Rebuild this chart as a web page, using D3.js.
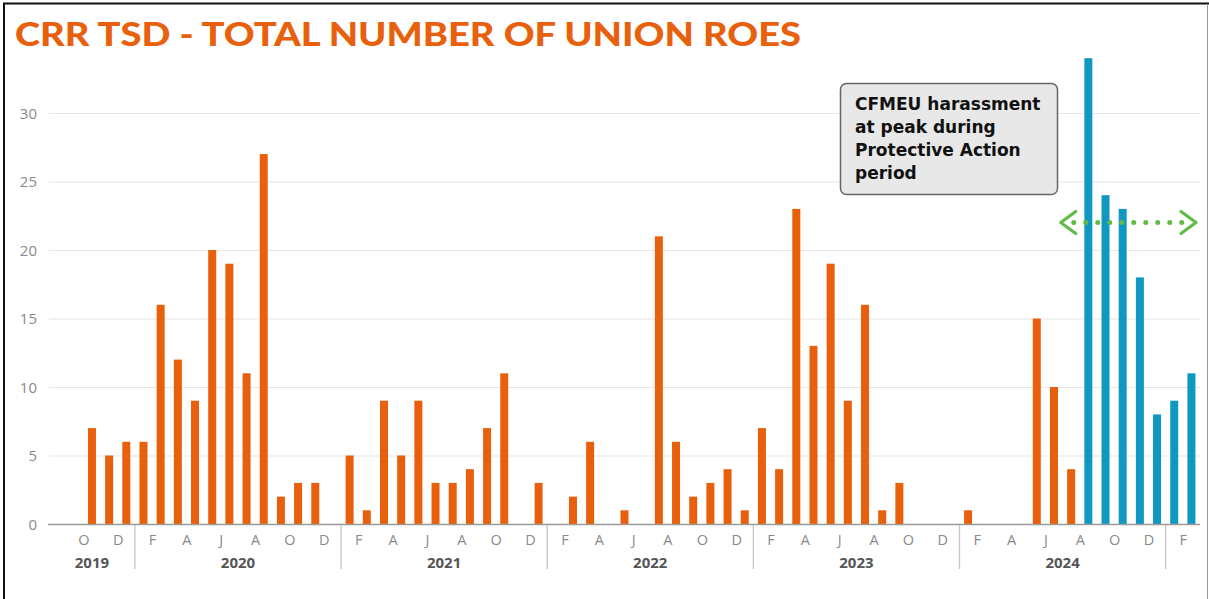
<!DOCTYPE html>
<html>
<head>
<meta charset="utf-8">
<script src="https://cdn.jsdelivr.net/npm/d3@7/dist/d3.min.js"></script>
<style>
  html, body { margin: 0; padding: 0; background: #fff; }
  svg { display: block; }
</style>
</head>
<body>
<svg id="chart" width="1209" height="599"></svg>
<script>
// ---- DATA ----
const title = "CRR TSD - TOTAL NUMBER OF UNION ROES";
// months from Oct 2019 to Feb 2025
const months = [
  "2019-10","2019-11","2019-12",
  "2020-01","2020-02","2020-03","2020-04","2020-05","2020-06","2020-07","2020-08","2020-09","2020-10","2020-11","2020-12",
  "2021-01","2021-02","2021-03","2021-04","2021-05","2021-06","2021-07","2021-08","2021-09","2021-10","2021-11","2021-12",
  "2022-01","2022-02","2022-03","2022-04","2022-05","2022-06","2022-07","2022-08","2022-09","2022-10","2022-11","2022-12",
  "2023-01","2023-02","2023-03","2023-04","2023-05","2023-06","2023-07","2023-08","2023-09","2023-10","2023-11","2023-12",
  "2024-01","2024-02","2024-03","2024-04","2024-05","2024-06","2024-07","2024-08","2024-09","2024-10","2024-11","2024-12",
  "2025-01","2025-02"
];
const values = [
  7,5,6,
  6,16,12,9,20,19,11,27,2,3,3,0,
  5,1,9,5,9,3,3,4,7,11,0,3,
  0,2,6,0,1,0,21,6,2,3,4,1,
  7,4,23,13,19,9,16,1,3,0,0,0,
  1,0,0,0,15,10,4,34,24,23,18,8,
  9,11
];
const protectiveActionStart = "2024-08";
const yTicks = [0,5,10,15,20,25,30];
const monthLetters = ["J","F","M","A","M","J","J","A","S","O","N","D"];
const years = [2019,2020,2021,2022,2023,2024];
const annotationLines = ["CFMEU harassment","at peak during","Protective Action","period"];

// ---- SETUP ----
const svg = d3.select("#chart");
const W = 1209, H = 599;
const ORANGE = "#E8600B", BLUE = "#0F98C2", GREEN = "#62BB46";

// axis domain: Aug 2019 .. Mar 2025 as month offsets
const startYear = 2019, startMonth = 7; // Aug (0-based)
const monthIndex = s => { const [y,m] = s.split("-").map(Number); return (y - startYear)*12 + (m-1) - startMonth; };
const domainEnd = monthIndex("2025-03");
const x = d3.scaleLinear().domain([0, domainEnd]).range([49, 1200]);
const y = d3.scaleLinear().domain([0, 30]).range([524, 113]);

// frame
svg.append("line").attr("x1",4).attr("x2",4).attr("y1",3).attr("y2",H).attr("stroke","#111").attr("stroke-width",2);
svg.append("line").attr("x1",3).attr("x2",W).attr("y1",3.5).attr("y2",3.5).attr("stroke","#111").attr("stroke-width",2);
svg.append("line").attr("x1",1207.5).attr("x2",1207.5).attr("y1",4).attr("y2",H).attr("stroke","#999").attr("stroke-width",1);

// title
svg.append("text").attr("x",15).attr("y",46).text(title)
  .attr("font-family","Lato, 'Open Sans', sans-serif").attr("font-weight",900)
  .attr("font-size",33).attr("fill",ORANGE)
  .attr("textLength",786).attr("lengthAdjust","spacingAndGlyphs");

// gridlines
svg.append("g").selectAll("line").data(yTicks.filter(d=>d>0)).join("line")
  .attr("x1",49).attr("x2",1200).attr("y1",d=>y(d)+0.5).attr("y2",d=>y(d)+0.5)
  .attr("stroke","#e6e6e6").attr("stroke-width",1.2);

// y axis labels
const yAxis = d3.axisLeft(y).tickValues(yTicks).tickSize(0).tickPadding(0);
const yg = svg.append("g").attr("transform","translate(37,0)").call(yAxis);
yg.select(".domain").remove();
yg.selectAll("text").attr("font-family","'Open Sans', sans-serif").attr("font-size",15)
  .attr("fill","#8a8a8a").attr("dy","0.35em");

// bars
const barW = 8;
const hlStart = monthIndex(protectiveActionStart);
svg.append("g").selectAll("rect").data(months.map((m,i)=>({m, v: values[i], k: monthIndex(m)}))).join("rect")
  .attr("x", d => x(d.k + 0.5) - barW/2)
  .attr("width", barW)
  .attr("y", d => y(d.v))
  .attr("height", d => y(0) - y(d.v))
  .attr("fill", d => d.k >= hlStart ? BLUE : ORANGE);

// baseline
svg.append("line").attr("x1",48).attr("x2",1200).attr("y1",524.5).attr("y2",524.5)
  .attr("stroke","#9a9a9a").attr("stroke-width",1.3);

// month labels (every other month, Oct 2019 .. Feb 2025)
const monthTicks = d3.range(2, domainEnd, 2);
const xAxis = d3.axisBottom(x).tickValues(monthTicks).tickSize(0).tickPadding(0)
  .tickFormat(k => monthLetters[(k + startMonth) % 12]);
const xg = svg.append("g").attr("transform","translate(0,540)").call(xAxis);
xg.select(".domain").remove();
xg.selectAll("text").attr("font-family","'Open Sans', sans-serif").attr("font-size",14.5)
  .attr("fill","#8a8a8a").attr("dy","0.35em");

// year separators
const janIdx = d3.range(startYear+1, 2026).map(yr => (yr - startYear)*12 - startMonth);
svg.append("g").selectAll("line").data(janIdx).join("line")
  .attr("x1",d=>x(d)).attr("x2",d=>x(d)).attr("y1",525).attr("y2",569)
  .attr("stroke","#c4c4c4").attr("stroke-width",1.3);

// year labels
svg.append("g").selectAll("text").data(years).join("text")
  .attr("x", yr => {
    const a = Math.max(0, (yr - startYear)*12 - startMonth);
    const b = Math.min(domainEnd, (yr + 1 - startYear)*12 - startMonth);
    return (x(a) + x(b))/2;
  })
  .attr("y",568).attr("text-anchor","middle")
  .attr("font-family","'Open Sans', sans-serif").attr("font-weight",700).attr("font-size",15)
  .attr("fill","#555").text(d=>d);

// annotation box
svg.append("rect").attr("x",840.5).attr("y",83.5).attr("width",217).attr("height",111).attr("rx",6)
  .attr("fill","#e8e8e8").attr("stroke","#666").attr("stroke-width",1.5);
svg.append("g").selectAll("text").data(annotationLines).join("text")
  .attr("x",855).attr("y",(d,i)=>109.5 + i*23.3)
  .attr("font-family","'DejaVu Sans', sans-serif").attr("font-weight",700).attr("font-size",17)
  .attr("fill","#111").text(d=>d);

// green dotted arrow across protective action period
const arrowY = 222.5;
const ax1 = x(hlStart) - 19, ax2 = x(domainEnd) - 4;
const dots = d3.range(ax1 + 13, ax2 - 10, 12);
svg.append("g").selectAll("circle").data(dots).join("circle")
  .attr("cx",d=>d).attr("cy",arrowY).attr("r",2.5).attr("fill",GREEN);
svg.append("path").attr("d",`M${ax1+15},${arrowY-11} L${ax1},${arrowY} L${ax1+15},${arrowY+11}`)
  .attr("fill","none").attr("stroke",GREEN).attr("stroke-width",3.2).attr("stroke-linecap","round").attr("stroke-linejoin","round");
svg.append("path").attr("d",`M${ax2-15},${arrowY-11} L${ax2},${arrowY} L${ax2-15},${arrowY+11}`)
  .attr("fill","none").attr("stroke",GREEN).attr("stroke-width",3.2).attr("stroke-linecap","round").attr("stroke-linejoin","round");
</script>
</body>
</html>
